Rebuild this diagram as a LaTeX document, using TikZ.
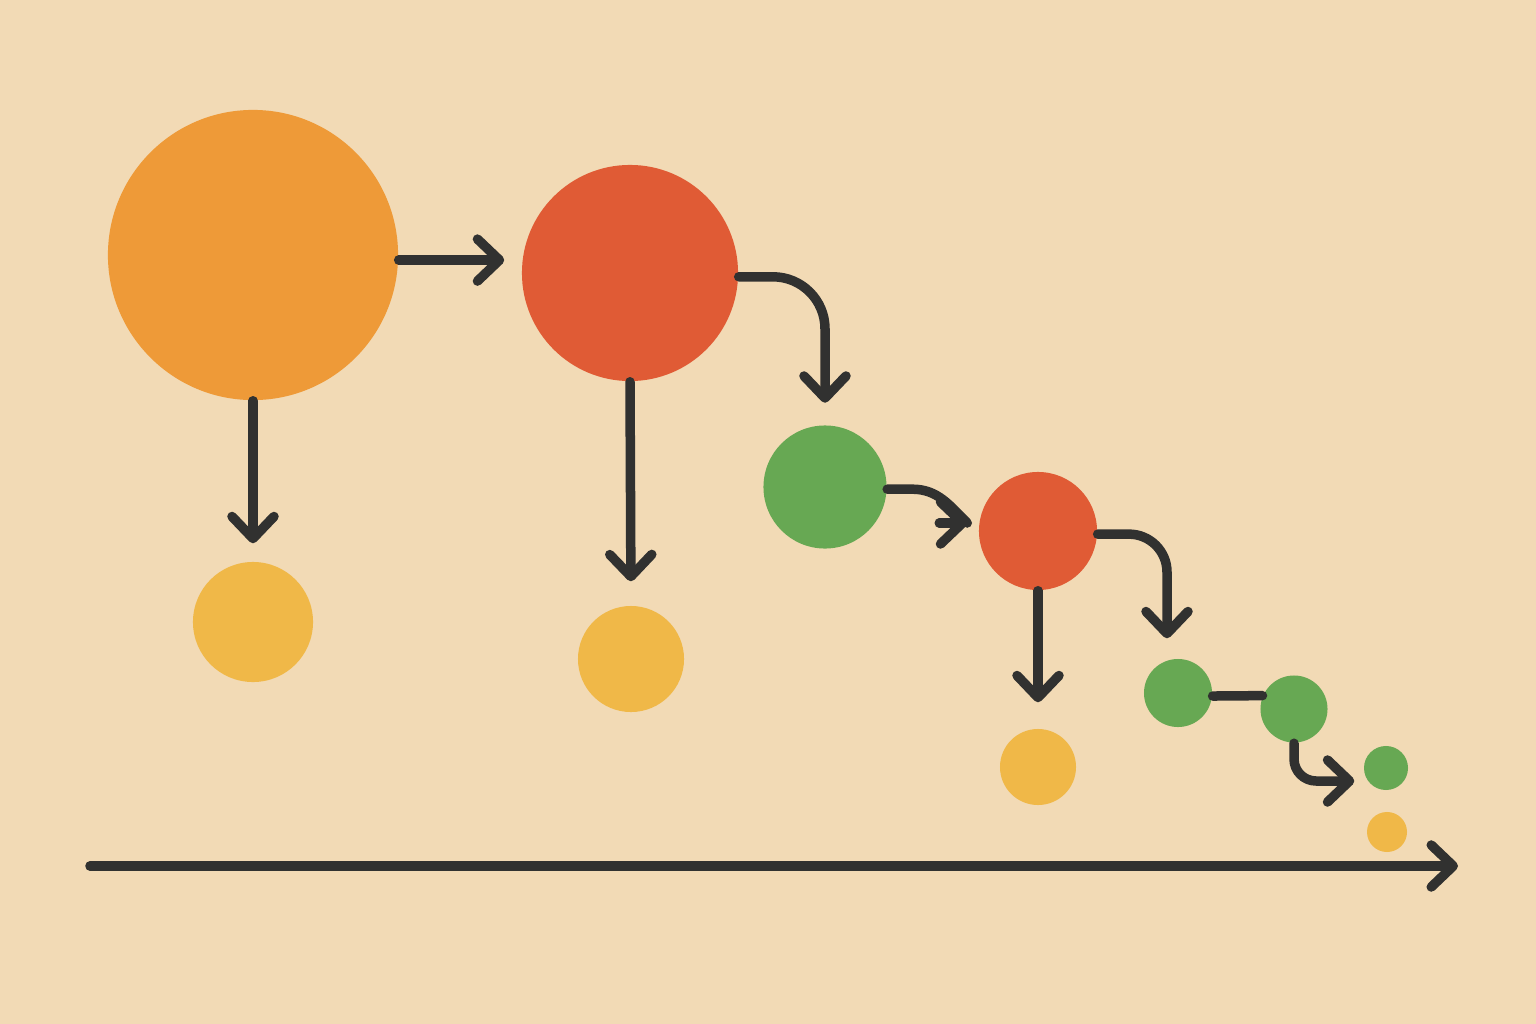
\documentclass[tikz,border=0pt]{standalone}
\usepackage{tikz}
\usetikzlibrary{arrows.meta, positioning, calc}
\definecolor{paper}{HTML}{F2DAB5}
\definecolor{ink}{HTML}{313130}
\definecolor{orng}{HTML}{EE9A38}
\definecolor{redd}{HTML}{E05B35}
\definecolor{grn}{HTML}{67A853}
\definecolor{yel}{HTML}{F0B848}

\begin{document}
\begin{tikzpicture}[x=0.01cm, y=-0.01cm,
      dot/.style={circle, draw=none, inner sep=0pt},
      arr/.style={-{Straight Barb[length=2.2mm, width=4.2mm, round]}, draw=ink, line width=0.95mm, line cap=round, line join=round},
      link/.style={draw=ink, line width=0.95mm, line cap=round, line join=round}]

      % Background
      \fill[paper] (0,0) rectangle (1536,1024);
      \useasboundingbox (0,0) rectangle (1536,1024);

      % Circles
      \node[dot, fill=orng, minimum size=2.9cm] (o1) at (253,255) {};
      \node[dot, fill=redd, minimum size=2.16cm] (r1) at (630,273) {};
      \node[dot, fill=grn, minimum size=1.23cm] (g1) at (825,487) {};
      \node[dot, fill=redd, minimum size=1.18cm] (r2) at (1038,531) {};
      \node[dot, fill=grn, minimum size=0.68cm] (g2) at (1178,693) {};
      \node[dot, fill=grn, minimum size=0.67cm] (g3) at (1294,709) {};
      \node[dot, fill=grn, minimum size=0.44cm] (g4) at (1386,768) {};
      \node[dot, fill=yel, minimum size=1.2cm] (y1) at (253,622) {};
      \node[dot, fill=yel, minimum size=1.06cm] (y2) at (631,659) {};
      \node[dot, fill=yel, minimum size=0.76cm] (y3) at (1038,767) {};
      \node[dot, fill=yel, minimum size=0.4cm] (y4) at (1387,832) {};

      % Time axis
      \coordinate (t0) at (90,866);
      \coordinate (t1) at (1458,866);
      \draw[arr] (t0) -- (t1);

      % Straight arrows
      \draw[arr, shorten >=1.7mm] (o1.-2) -- (r1.west |- o1.-2);
      \draw[arr, shorten >=1.8mm] (o1.south) -- (y1.north);
      \draw[arr, shorten >=2.4mm] (r1.south) -- (y2.north);
      \draw[arr, shorten >=2.6mm] (r2.south) -- (y3.north);

      % Bent arrows
      \draw[arr, rounded corners=5.2mm, shorten >=2.2mm] (r1.-2) -| (g1.north);
      \coordinate (k1) at ($(r2.west)+(-11,-8)$);
      \draw[link] (g1.-2) -- ++(25,0) to[out=0, in=135] (k1);
      \draw[arr] ($(k1)+(-28,0)$) -- (k1);
      \draw[arr, rounded corners=3.8mm, shorten >=2mm] (r2.-3) -| ($(g2.north)+(-11,0)$);
      \draw[arr, rounded corners=2.2mm] (g3.south) |- ($(g4.west)+(-9,13)$);

      % Plain link
      \draw[link] (g2.-5) -- (g3.157);
    \end{tikzpicture}
\end{document}
